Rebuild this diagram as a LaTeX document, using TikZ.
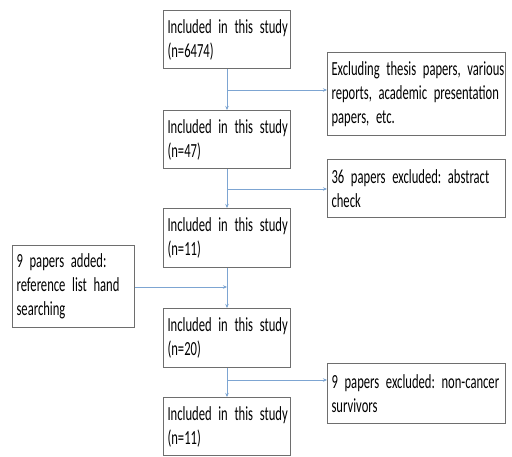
\documentclass[tikz,border=0pt]{standalone}
\usepackage{fontspec}
\setmainfont{Carlito}[FakeStretch=0.63]
\usetikzlibrary{arrows.meta}
\definecolor{linec}{RGB}{125,165,210}
\definecolor{boxc}{RGB}{110,110,110}
\tikzset{
  box/.style={draw=boxc, line width=1.1pt, anchor=north west, inner xsep=4pt, inner ysep=0pt,
    align=left, font=\fontsize{20}{24}\selectfont,
    execute at begin node={\frenchspacing\hyphenpenalty=10000\exhyphenpenalty=10000}},
  mainbox/.style={box, minimum width=127pt, text width=119pt},
  sidebox/.style={box, minimum width=178pt, text width=170pt},
  arr/.style={draw=linec, line width=0.9pt, -{Stealth[length=4pt,width=3.5pt]}}
}
\begin{document}
\begin{tikzpicture}[x=1pt,y=-1pt]
\useasboundingbox (0,0) rectangle (512,456);
% main column
\node[mainbox, minimum height=58pt] (b1) at (163,10) {\mbox{Included in this study}\\(n=6474)};
\node[mainbox, minimum height=58pt] (b2) at (163,110) {\mbox{Included in this study}\\(n=47)};
\node[mainbox, minimum height=59pt] (b3) at (163,208) {\mbox{Included in this study}\\(n=11)};
\node[mainbox, minimum height=59pt] (b4) at (163,308) {\mbox{Included in this study}\\(n=20)};
\node[mainbox, minimum height=58pt] (b5) at (163,397) {\mbox{Included in this study}\\(n=11)};
% side boxes
\node[sidebox, minimum height=83pt] (r1) at (327,52) {\mbox{Excluding thesis papers, various}\\\mbox{reports, academic presentation}\\papers, etc.};
\node[sidebox, minimum height=58pt] (r2) at (327,159) {\mbox{36 papers excluded: abstract}\\check};
\node[sidebox, minimum height=60pt] (r3) at (327,363) {\mbox{9 papers excluded: non-cancer}\\survivors};
\node[box, minimum width=122pt, text width=114pt, minimum height=82pt] (l1) at (12,245) {\mbox{9 papers added:}\\\mbox{reference list hand}\\searching};
% junctions
\coordinate (j1) at (227,90);
\coordinate (j2) at (227,189);
\coordinate (j3) at (227,287);
\coordinate (j4) at (227,380);
% connectors
\draw[arr] (b1.south -| j1) -- (b2.north -| j1);
\draw[arr] (b2.south -| j2) -- (b3.north -| j2);
\draw[arr] (b3.south -| j3) -- (b4.north -| j3);
\draw[arr] (b4.south -| j4) -- (b5.north -| j4);
\draw[arr] (j1) -- (j1 -| r1.west);
\draw[arr] (j2) -- (j2 -| r2.west);
\draw[arr] (j4) -- (j4 -| r3.west);
\draw[arr] (j3 -| l1.east) -- (j3);
\end{tikzpicture}
\end{document}
